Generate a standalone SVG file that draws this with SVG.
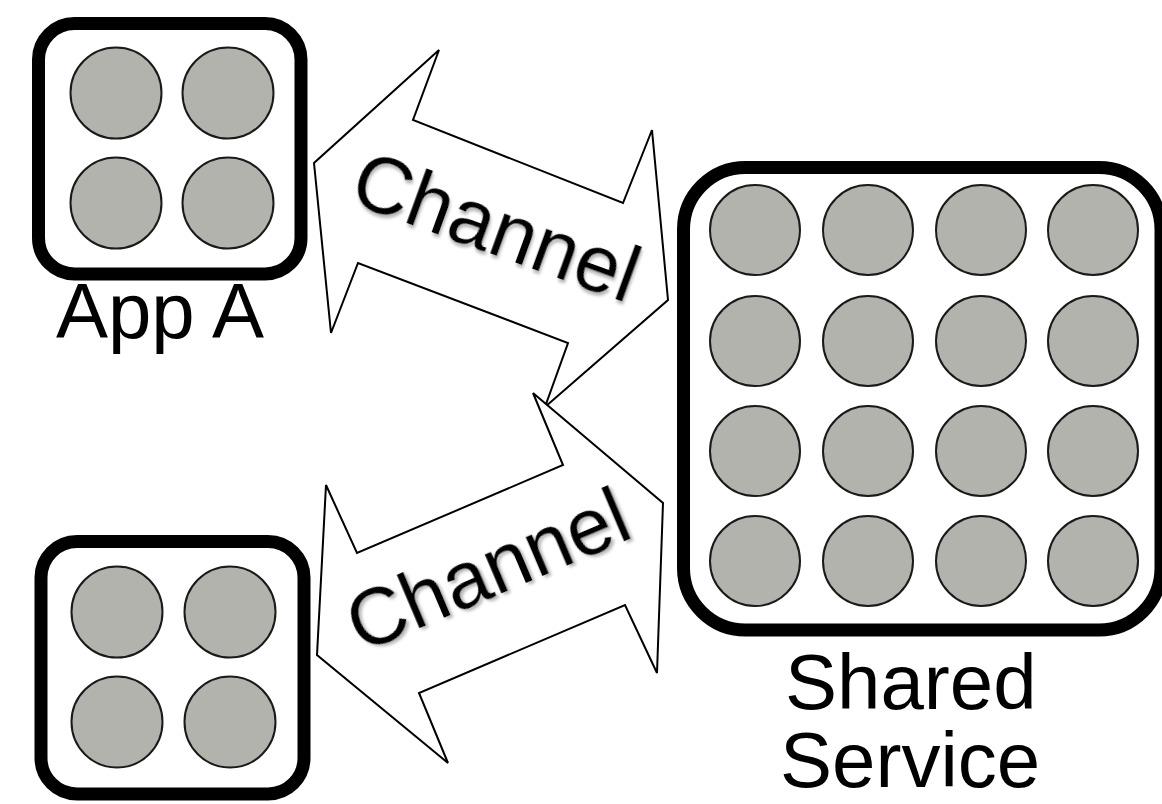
<svg xmlns="http://www.w3.org/2000/svg" width="1162" height="804" viewBox="0 0 1162 804">
  <style>
    .box { fill: #ffffff; stroke: #000000; stroke-width: 13; }
    .cell { fill: #b3b3ae; stroke: #1a1a1a; stroke-width: 2; }
    .arrow { fill: #ffffff; stroke: #000000; stroke-width: 2; stroke-linejoin: miter; }
    .label { font-family: "Liberation Sans", Arial, sans-serif; font-size: 78px; fill: #000000; }
    .chan { font-family: "Liberation Sans", Arial, sans-serif; font-size: 80px; fill: #000000; text-anchor: middle; }
  </style>
  <defs>
    <filter id="soft-shadow" x="-10%" y="-30%" width="120%" height="160%">
      <feDropShadow dx="2" dy="3" stdDeviation="1.5" flood-color="#888888" flood-opacity="0.6"/>
    </filter>
  </defs>

  <rect width="1162" height="804" fill="#ffffff"/>

  <!-- channels between the apps and the shared service -->
  <g id="connectors">
    <g id="channel-top">
      <polygon class="arrow" points="439,50 413,120 623,203 652,130 668,300 545,407 568,343 358,263 331,333 314,163"/>
      <text class="chan" filter="url(#soft-shadow)" transform="translate(497,225) rotate(20)" y="29">Channel</text>
    </g>
    <g id="channel-bottom">
      <polygon class="arrow" points="533,393 563,465 357,553 326,485 317,655 448,763 419,693 625,605 657,673 663,503"/>
      <text class="chan" filter="url(#soft-shadow)" transform="translate(487,568) rotate(-23)" y="29">Channel</text>
    </g>
  </g>

  <!-- App A -->
  <g id="app-a">
    <rect class="box" x="38.5" y="23.5" width="262.5" height="250.5" rx="36"/>
    <circle class="cell" cx="116" cy="93" r="45.5"/>
    <circle class="cell" cx="228" cy="93" r="45.5"/>
    <circle class="cell" cx="116" cy="203" r="45.5"/>
    <circle class="cell" cx="228" cy="203" r="45.5"/>
    <text class="label" x="160" y="338" text-anchor="middle">App A</text>
  </g>

  <!-- second app (unlabelled) -->
  <g id="app-b">
    <rect class="box" x="41" y="541.5" width="263" height="252.5" rx="36"/>
    <circle class="cell" cx="117" cy="612" r="45.5"/>
    <circle class="cell" cx="230" cy="612" r="45.5"/>
    <circle class="cell" cx="117" cy="722" r="45.5"/>
    <circle class="cell" cx="230" cy="722" r="45.5"/>
  </g>

  <!-- Shared Service -->
  <g id="shared-service">
    <rect class="box" x="683.5" y="167.5" width="477.5" height="462.5" rx="62"/>
    <circle class="cell" cx="755" cy="230" r="45"/>
    <circle class="cell" cx="868" cy="230" r="45"/>
    <circle class="cell" cx="981" cy="230" r="45"/>
    <circle class="cell" cx="1093" cy="230" r="45"/>
    <circle class="cell" cx="755" cy="341" r="45"/>
    <circle class="cell" cx="868" cy="341" r="45"/>
    <circle class="cell" cx="981" cy="341" r="45"/>
    <circle class="cell" cx="1093" cy="341" r="45"/>
    <circle class="cell" cx="755" cy="451" r="45"/>
    <circle class="cell" cx="868" cy="451" r="45"/>
    <circle class="cell" cx="981" cy="451" r="45"/>
    <circle class="cell" cx="1093" cy="451" r="45"/>
    <circle class="cell" cx="755" cy="561" r="45"/>
    <circle class="cell" cx="868" cy="561" r="45"/>
    <circle class="cell" cx="981" cy="561" r="45"/>
    <circle class="cell" cx="1093" cy="561" r="45"/>
    <text class="label" y="709"><tspan x="785">Shared</tspan><tspan x="780" dy="78">Service</tspan></text>
  </g>
</svg>
